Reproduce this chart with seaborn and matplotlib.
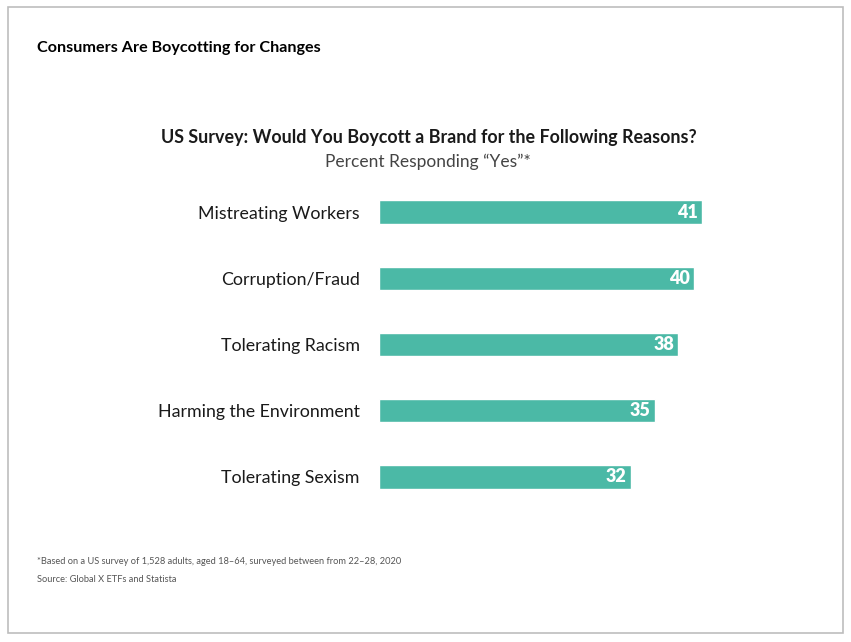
import numpy as np
import pandas as pd
import seaborn as sns
from matplotlib import pyplot as plt
from matplotlib.patches import Rectangle

reasons = ['Mistreating Workers', 'Corruption/Fraud', 'Tolerating Racism',
           'Harming the Environment', 'Tolerating Sexism']
percent_yes = [41, 40, 38, 35, 32]

df = pd.DataFrame({'reason': reasons, 'pct': percent_yes})

sns.set_theme(style='white')
plt.rcParams['font.family'] = ['Lato', 'DejaVu Sans']

W, H = 851, 642
fig = plt.figure(figsize=(W / 100, H / 100), dpi=100)

# axes placed in pixel coordinates
x0, x1 = 379, 702
y_top, y_bot = 178.9, 510.1
ax = fig.add_axes([x0 / W, 1 - y_bot / H, (x1 - x0) / W, (y_bot - y_top) / H])

sns.barplot(data=df, x='pct', y='reason', color='#4BB9A6', saturation=1,
            width=0.35, ax=ax)
ax.set_xlim(0, 41)
ax.set_ylim(4.5, -0.5)
ax.set_xlabel('')
ax.set_ylabel('')
ax.set_xticks([])
sns.despine(ax=ax, left=True, bottom=True)
ax.tick_params(axis='y', length=0, pad=14, labelsize=12.8, labelcolor='#1a1a1a')

for i, v in enumerate(percent_yes):
    ax.text(v - 0.55, i, str(v), ha='right', va='center', color='white',
            fontsize=13, fontweight='heavy')

# outer frame
fig.patches.append(Rectangle((8 / W, 1 - 633 / H), 835 / W, 626 / H,
                             transform=fig.transFigure, fill=False,
                             edgecolor='#bdbdbd', linewidth=1.2))

fig.text(37 / W, 1 - 48 / H, 'Consumers Are Boycotting for Changes',
         ha='left', va='center', fontsize=11.6, fontweight='bold', color='black')
fig.text(429 / W, 1 - 137 / H,
         'US Survey: Would You Boycott a Brand for the Following Reasons?',
         ha='center', va='center', fontsize=12.9, fontweight='bold', color='#1a1a1a')
fig.text(428 / W, 1 - 162 / H, 'Percent Responding \u201cYes\u201d*',
         ha='center', va='center', fontsize=12.5, color='#444444')
fig.text(37 / W, 1 - 562 / H,
         '*Based on a US survey of 1,528 adults, aged 18\u201364, surveyed between from 22\u201328, 2020',
         ha='left', va='center', fontsize=6.7, color='#555555')
fig.text(37 / W, 1 - 580 / H, 'Source: Global X ETFs and Statista',
         ha='left', va='center', fontsize=6.7, color='#555555')

fig.savefig('out.png', dpi=100)
